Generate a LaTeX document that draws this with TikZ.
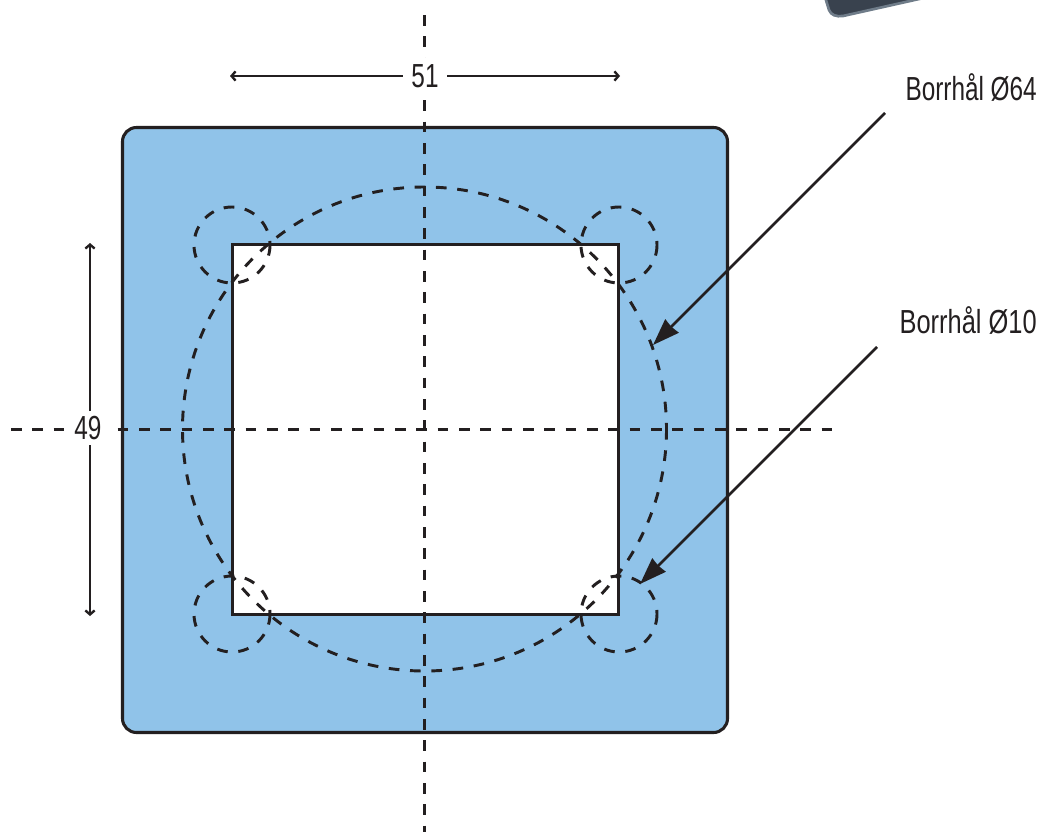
\documentclass[tikz,border=0pt]{standalone}
\usepackage{fontspec}
\setmainfont[FakeStretch=0.73]{Liberation Sans}
\usetikzlibrary{arrows.meta}
\definecolor{plate}{HTML}{90C3E9}
\definecolor{ink}{HTML}{231F20}
\definecolor{photo}{HTML}{39424E}
\definecolor{photoedge}{HTML}{6F7C89}
\tikzset{
  x=0.75pt,y=-0.75pt,
  outline/.style={draw=ink,line width=2.3pt},
  axisline/.style={draw=ink,line width=2.3pt,dash pattern=on 8pt off 8pt},
  holeline/.style={draw=ink,line width=2.2pt,dash pattern=on 8pt off 8pt},
  dimhalf/.style={draw=ink,line width=1.8pt,-{Straight Barb[length=3pt,width=7pt]}},
  leader/.style={draw=ink,line width=2pt,-{Stealth[length=20pt,width=14pt,inset=0.6pt]}},
  lab/.style={font=\fontsize{25}{28}\selectfont,text=ink,inner sep=0pt},
  dimlab/.style={lab,fill=white,inner xsep=6.4pt,inner ysep=5pt}
}
\begin{document}
\begin{tikzpicture}
\useasboundingbox (0,0) rectangle (1042,832);
% photo fragment at top edge
\path[fill=photo,draw=photoedge,line width=2pt] (825,-3) -- (829,10) .. controls (831,15) and (836,17) .. (843,16) -- (928,-3) -- cycle;
% plate
\path[fill=plate,outline,rounded corners=10.5pt] (122.5,127.5) rectangle (727.5,732.5);
\path[fill=white,outline] (232.5,244.5) rectangle (618.5,614.5);
% holes
\draw[holeline] (424.5,429) circle[radius=242];
\foreach \cx/\cy in {232/245,619/245,232/614,619/614}
  \draw[holeline] (\cx,\cy) circle[radius=38];
% axes
\coordinate (vtop) at (424.5,15);
\coordinate (vbot) at (424.5,832);
\coordinate (hleft) at (11,429.5);
\coordinate (hright) at (835,429.5);
\draw[axisline] (vtop) -- (vbot);
\draw[axisline] (hleft) -- (hright);
% dimensions
\node[dimlab] (d51) at (425,76) {51};
\node[dimlab,inner ysep=5pt] (d49) at (88,428) {49};
\coordinate (aL) at (230,76);
\coordinate (aR) at (620,76);
\coordinate (aT) at (90,243);
\coordinate (aB) at (90,616);
\draw[dimhalf] (d51) -- (aL);
\draw[dimhalf] (d51) -- (aR);
\draw[dimhalf] (90,411) -- (aT);
\draw[dimhalf] (90,445) -- (aB);
% labels and leaders
\node[lab,anchor=east] (b64) at (1037,87) {Borrhål Ø64};
\node[lab,anchor=east] (b10) at (1037,320) {\scalebox{1.045}[1]{Borrhål Ø10}};
\coordinate (s64) at (885,113);
\coordinate (e64) at (653,345);
\coordinate (s10) at (877,347);
\coordinate (e10) at (640,584);
\draw[leader] (s64) -- (e64);
\draw[leader] (s10) -- (e10);
\end{tikzpicture}
\end{document}
